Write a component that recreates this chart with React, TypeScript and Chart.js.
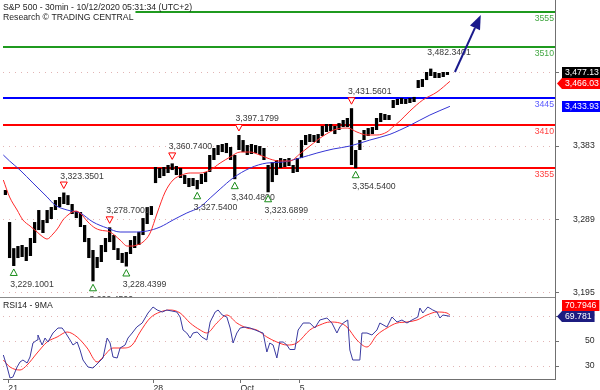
import React, { useEffect, useRef } from 'react';
import { Chart, registerables } from 'chart.js';

Chart.register(...registerables);

const FONT_FAMILY = '"Liberation Sans", Arial, Helvetica, sans-serif';
const FONT_SIZE = 8.7;
const FONT = `${FONT_SIZE}px ${FONT_FAMILY}`;

const TITLE = 'S&P 500 - 30min - 10/12/2020 05:31:34 (UTC+2)';
const SUBTITLE = 'Research © TRADING CENTRAL';
const RSI_TITLE = 'RSI14 - 9MA';

// x axis: bar index (hourly bars), ticks at the first bar of a day
const X_MIN = -1.58;
const X_MAX = 130.8;
const X_TICK_AT = [-0.3, 34.5, 55.4, 69.6];
const X_TICK_LABELS = ['21', '28', 'Oct', '5'];

const PRICE_MIN = 3189.3;
const PRICE_MAX = 3570.4;
const PRICE_TICKS = [3195, 3289, 3383, 3477];
const RSI_MIN = 19.6;
const RSI_MAX = 85.2;
const RSI_TICKS = [30, 50, 70];

// price bars, first bar has index BAR_START
const BAR_START = -1;
const BAR_HIGH = [
  3326.6, 3285.5, 3252.0, 3254.7, 3256.0, 3253.4, 3265.0, 3285.5, 3300.9, 3288.1,
  3300.9, 3304.8, 3313.7, 3317.6, 3323.35, 3320.0, 3308.6, 3299.6, 3298.3, 3281.7,
  3265.0, 3249.6, 3240.6, 3256.0, 3265.0, 3278.7, 3268.8, 3252.0, 3245.8, 3247.0,
  3262.4, 3267.5, 3272.7, 3290.6, 3304.8, 3306.0, 3356.1, 3354.8, 3356.1, 3358.7,
  3360.74, 3357.4, 3354.8, 3345.8, 3342.0, 3342.0, 3339.4, 3347.1, 3349.7, 3371.5,
  3380.5, 3384.3, 3385.6, 3386.9, 3381.8, 3371.5, 3397.18, 3390.7, 3384.3, 3385.6,
  3384.3, 3383.0, 3380.5, 3358.7, 3362.5, 3365.1, 3367.6, 3366.4, 3367.6, 3358.7,
  3367.6, 3390.7, 3397.2, 3398.4, 3397.2, 3398.4, 3408.7, 3411.3, 3411.3, 3408.7,
  3412.5, 3416.4, 3419.0, 3431.56, 3377.9, 3390.7, 3403.6, 3406.1, 3407.4, 3419.0,
  3425.4, 3424.1, 3422.8, 3442.1, 3443.4, 3444.7, 3443.4, 3444.7, 3446.0, 3467.7,
  3469.0, 3478.0, 3482.34, 3478.0, 3476.7, 3478.0, 3478.0,
];
const BAR_LOW = [
  3320.2, 3239.3, 3229.1, 3239.3, 3240.6, 3235.5, 3241.9, 3258.6, 3275.2, 3271.4,
  3284.2, 3289.4, 3300.9, 3304.8, 3308.6, 3307.3, 3295.8, 3290.6, 3279.1, 3259.8,
  3239.3, 3209.45, 3226.5, 3234.2, 3247.0, 3259.8, 3249.6, 3236.8, 3233.0, 3228.44,
  3244.5, 3252.2, 3256.0, 3268.8, 3283.0, 3294.5, 3335.5, 3342.0, 3344.5, 3348.4,
  3352.2, 3345.8, 3342.0, 3334.3, 3330.4, 3331.7, 3327.54, 3334.3, 3336.8, 3349.7,
  3365.1, 3371.5, 3375.3, 3374.0, 3365.1, 3340.48, 3377.9, 3375.3, 3371.5, 3372.8,
  3374.0, 3371.5, 3365.1, 3323.69, 3336.8, 3345.8, 3354.8, 3356.1, 3357.4, 3348.4,
  3349.7, 3367.6, 3384.3, 3388.2, 3388.2, 3386.9, 3395.9, 3401.0, 3402.3, 3398.4,
  3403.6, 3407.4, 3407.4, 3358.7, 3354.54, 3377.9, 3390.7, 3395.9, 3398.4, 3403.6,
  3413.8, 3416.4, 3416.4, 3431.8, 3435.7, 3437.0, 3437.0, 3438.2, 3439.5, 3457.5,
  3458.8, 3467.7, 3472.9, 3470.3, 3470.3, 3471.6, 3474.2,
];

// moving averages: [bar index, value]
const RED_MA: [number, number][] = [
  [-1.5, 3339.4], [0, 3317.6], [1.8, 3300.9], [3.2, 3288.1], [4.9, 3280.4], [6.6, 3272.7],
  [8, 3266.3], [9, 3263.7], [10.4, 3270.1], [11.6, 3277.8], [12.8, 3288.1], [14, 3294.5],
  [15, 3298.3], [15.9, 3299.6], [16.9, 3297.1], [18.8, 3285.5], [20.5, 3277.8], [21.7, 3275.2],
  [24.1, 3272.7], [26.5, 3262.4], [28.2, 3254.7], [29.6, 3254.7], [30.5, 3256], [32, 3259.8],
  [33.7, 3271.4], [35.4, 3297.1], [37.3, 3324], [39.2, 3339.4], [41.3, 3345.8], [43.3, 3348.4],
  [45.7, 3348.4], [48.1, 3352.2], [50.5, 3361.2], [52.9, 3368.9], [55.3, 3375.3], [57.7, 3375.3],
  [60, 3371.5], [62.4, 3366.4], [64.8, 3363.8], [67.2, 3363.8], [69.6, 3372.8], [72, 3383],
  [75.2, 3395.9], [78.5, 3404.9], [81.1, 3406.1], [83.3, 3401], [85.7, 3397.2], [88.1, 3397.2],
  [90.5, 3401], [91.9, 3407.4], [93.6, 3415.1], [96, 3427.9], [99.1, 3442.1], [102.5, 3452.3],
  [105.6, 3466.03],
];
const BLUE_MA: [number, number][] = [
  [-1.5, 3371.5], [0, 3363.8], [2.5, 3352.2], [5.6, 3335.6], [9, 3317.6], [10.9, 3307.3],
  [13.8, 3300.9], [16.9, 3297.1], [20, 3285.5], [23.4, 3277.8], [26.5, 3272.7], [29.6, 3272.7],
  [33, 3274], [36.1, 3279.1], [39.2, 3288.1], [42.5, 3297.1], [45.7, 3304.8], [48.1, 3316.3],
  [50.5, 3327.9], [53.6, 3342], [57.7, 3354.8], [61.7, 3361.2], [65.6, 3362.5], [69.6, 3367.6],
  [73.7, 3374], [77.6, 3379.2], [81.6, 3383], [86.4, 3390.7], [91.2, 3398], [93.6, 3403.5],
  [96, 3409.5], [100.8, 3422.8], [105.6, 3433.93],
];

// RSI(14) and its 9-period average: [bar index, value]
const RSI: [number, number][] = [
  [-1.5, 38.8], [-0.6, 29.2], [0.1, 20.4], [0.8, 21.2], [1.8, 29.2], [2.5, 33.2], [3.2, 34.8],
  [4.2, 32.4], [4.9, 37.2], [5.6, 48.4], [6.6, 50.8], [6.8, 54.8], [7.8, 46.8], [8.5, 52.4],
  [9.2, 49.2], [10.4, 56.4], [11.6, 60.4], [12.6, 60.4], [13.3, 57.2], [14.5, 50.8], [15.2, 46.8],
  [16.2, 49.2], [16.9, 42.8], [17.6, 34.8], [18.8, 29.2], [20, 28.4], [21.2, 32.4], [22.4, 36.4],
  [23.4, 52.4], [24.1, 48.4], [24.8, 37.2], [25.8, 36.4], [26.5, 44.4], [27.7, 46.8], [28.4, 52.4],
  [29.4, 56.4], [30.5, 61.2], [31.8, 64.4], [32.5, 68.4], [33.2, 72.4], [34.4, 77.2], [35.4, 74.8],
  [36.6, 73.2], [37.7, 74.8], [38.9, 74], [40.1, 73.2], [40.9, 69.2], [41.6, 58.8], [42.5, 56.4],
  [43.3, 52.4], [44, 56.4], [45, 57.2], [46.1, 53.2], [47.3, 50.8], [48.1, 65.2], [49.3, 73.2],
  [50, 74.8], [51, 70.8], [52.1, 69.2], [52.9, 60.4], [53.6, 48.4], [54.5, 56.4], [55.3, 60.4],
  [56.5, 61.2], [57.7, 60.4], [58.9, 58.8], [60.1, 57.2], [60.8, 56.4], [61.7, 41.2], [62.4, 48.4],
  [63.2, 46.8], [64.1, 36.4], [64.8, 49.2], [65.6, 49.2], [66.5, 46.8], [67.2, 43.2], [68.4, 43.2],
  [69.2, 58.8], [70.4, 64.4], [72, 64.4], [73.2, 60.4], [74.4, 66.8], [76.1, 68.4], [77.3, 64.4],
  [78.5, 56.4], [79.2, 61.2], [80, 64.4], [81.1, 66.8], [81.6, 42.8], [82.3, 34.8], [84, 34.8],
  [84.5, 56.4], [85.7, 56.4], [86.9, 54.8], [88.1, 58.8], [88.8, 64.4], [90.5, 61.2], [91.7, 69.2],
  [92.9, 65.2], [94.1, 66.8], [95.3, 64.4], [96.5, 66.8], [97.9, 69.2], [98.4, 76.4], [99.1, 72.4],
  [100.3, 77.2], [101.5, 74.8], [102.5, 73.2], [103.2, 68.4], [103.9, 70.8], [105.6, 69.781],
];
const RSI_MA: [number, number][] = [
  [-1.5, 34.8], [0.1, 29.2], [2.5, 26.8], [4.2, 30.8], [6.6, 40.4], [9, 49.2], [11.4, 53.2],
  [13.8, 57.2], [16.2, 53.2], [18.6, 44.4], [21, 33.2], [22.4, 37.2], [24.8, 44.4], [27.2, 44.4],
  [29.4, 46.8], [31.3, 57.2], [33.7, 68.4], [36.1, 73.2], [38.5, 74.8], [40.9, 72.4], [43.3, 64.4],
  [45.7, 58.8], [47.3, 56.4], [49.7, 64.4], [52.1, 70.8], [54.5, 64.4], [56.9, 60.4], [59.3, 58.8],
  [61.7, 53.2], [64.1, 49.2], [66.5, 46.8], [68.9, 48.4], [72, 58.8], [74.4, 62.8], [76.8, 65.2],
  [79.2, 64.4], [80.9, 61.2], [83.3, 50.8], [85.7, 45.2], [88.1, 54.8], [90.5, 60.4], [92.9, 64.4],
  [95.3, 65.2], [97.7, 66.8], [100.1, 70.8], [102.5, 73.2], [104.9, 72.4], [105.6, 70.7946],
];

// support / resistance levels
const LEVELS = [3555, 3510, 3445, 3410, 3355];
const LEVEL_COLORS = ['#1f9a1f', '#1f9a1f', '#0000ff', '#ff0000', '#ff0000'];
const LEVEL_TEXT_COLORS = ['#45a845', '#45a845', '#5a5aff', '#ff4040', '#ff4040'];

// pivots: [bar index, value]
const PIVOT_HIGHS: [number, number][] = [
  [13, 3323.3501], [24, 3278.7001], [39, 3360.74], [55, 3397.1799], [82, 3431.5601], [101, 3482.3401],
];
const PIVOT_HIGH_MARKED = [true, true, true, true, true, false];
const PIVOT_LOWS: [number, number][] = [
  [1, 3229.1001], [20, 3209.45], [28, 3228.4399], [45, 3327.54], [54, 3340.48], [62, 3323.6899], [83, 3354.54],
];

// forecast arrow: [bar index, value] from -> to
const ARROW_FROM: [number, number] = [106.8, 3478];
const ARROW_TO: [number, number] = [113, 3551];

// last values (tags on the right axis)
const LAST_PRICE = 3477.13;
const LAST_RED_MA = 3466.03;
const LAST_BLUE_MA = 3433.93;
const LAST_RSI = 69.781;
const LAST_RSI_MA = 70.7946;

function fmt(v: number, d: number) {
  return v.toLocaleString('en-US', { minimumFractionDigits: d, maximumFractionDigits: d });
}

function drawTag(ctx: any, left: number, yc: number, text: string, color: string, arrow: boolean) {
  const h = 11;
  const top = Math.round(yc - h / 2);
  const bx = left + 5;
  const w = ctx.measureText(text).width;
  const right = Math.min(600, bx + 3 + w + 3);
  ctx.fillStyle = color;
  ctx.beginPath();
  if (arrow) {
    ctx.moveTo(left, top + h / 2);
    ctx.lineTo(bx, top);
    ctx.lineTo(right, top);
    ctx.lineTo(right, top + h);
    ctx.lineTo(bx, top + h);
    ctx.closePath();
  } else {
    ctx.rect(bx, top, right - bx, h);
  }
  ctx.fill();
  ctx.fillStyle = '#ffffff';
  ctx.textAlign = 'left';
  ctx.textBaseline = 'middle';
  ctx.fillText(text, bx + 3, top + h / 2 + 0.5);
  return top + h / 2;
}

const overlayPlugin = {
  id: 'overlay',
  beforeDatasetsDraw(chart: any) {
    const { ctx, chartArea: ca, scales } = chart;
    const y = scales.y;
    ctx.save();
    ctx.font = FONT;
    LEVELS.forEach((lv, k) => {
      const py = Math.round(y.getPixelForValue(lv));
      ctx.strokeStyle = LEVEL_COLORS[k];
      ctx.lineWidth = 2;
      ctx.beginPath();
      ctx.moveTo(ca.left, py);
      ctx.lineTo(ca.right, py);
      ctx.stroke();
      ctx.fillStyle = LEVEL_TEXT_COLORS[k];
      ctx.textAlign = 'right';
      ctx.textBaseline = 'alphabetic';
      ctx.fillText(String(lv), ca.right - 1, py + 9);
    });
    ctx.restore();
  },
  afterDatasetsDraw(chart: any) {
    const { ctx, chartArea: ca, scales } = chart;
    const x = scales.x;
    const y = scales.y;
    ctx.save();
    // panel separator
    ctx.strokeStyle = '#8a8a8a';
    ctx.lineWidth = 1;
    ctx.beginPath();
    ctx.moveTo(0, Math.round(y.bottom) + 0.5);
    ctx.lineTo(ca.right, Math.round(y.bottom) + 0.5);
    ctx.stroke();

    ctx.beginPath();
    ctx.rect(ca.left, y.top, ca.right - ca.left, y.bottom - y.top);
    ctx.clip();
    ctx.font = FONT;
    ctx.textAlign = 'left';
    ctx.textBaseline = 'alphabetic';
    ctx.lineWidth = 1;
    PIVOT_HIGHS.forEach(([i, v], k) => {
      const px = x.getPixelForValue(i);
      const py = y.getPixelForValue(v);
      if (PIVOT_HIGH_MARKED[k]) {
        const cy = py - 7.5;
        ctx.beginPath();
        ctx.moveTo(px - 3.5, cy - 3);
        ctx.lineTo(px + 3.5, cy - 3);
        ctx.lineTo(px, cy + 3.5);
        ctx.closePath();
        ctx.fillStyle = '#ffffff';
        ctx.fill();
        ctx.strokeStyle = '#ff0000';
        ctx.stroke();
      }
      ctx.fillStyle = '#3a3a3a';
      ctx.fillText(fmt(v, 4), px - 3.5, py - 14);
    });
    PIVOT_LOWS.forEach(([i, v]) => {
      const px = x.getPixelForValue(i);
      const py = y.getPixelForValue(v);
      const cy = py + 6.5;
      ctx.beginPath();
      ctx.moveTo(px - 3.5, cy + 3);
      ctx.lineTo(px + 3.5, cy + 3);
      ctx.lineTo(px, cy - 3.5);
      ctx.closePath();
      ctx.fillStyle = '#ffffff';
      ctx.fill();
      ctx.strokeStyle = '#1a8c1a';
      ctx.stroke();
      ctx.fillStyle = '#3a3a3a';
      ctx.fillText(fmt(v, 4), px - 3.5, py + 21);
    });

    // forecast arrow
    const x1 = x.getPixelForValue(ARROW_FROM[0]);
    const y1 = y.getPixelForValue(ARROW_FROM[1]);
    const x2 = x.getPixelForValue(ARROW_TO[0]);
    const y2 = y.getPixelForValue(ARROW_TO[1]);
    const ang = Math.atan2(y2 - y1, x2 - x1);
    const hl = 14;
    const hw = 5.5;
    const bx = x2 - hl * Math.cos(ang);
    const by = y2 - hl * Math.sin(ang);
    ctx.strokeStyle = '#1a1a8c';
    ctx.fillStyle = '#1a1a8c';
    ctx.lineWidth = 2;
    ctx.beginPath();
    ctx.moveTo(x1, y1);
    ctx.lineTo(bx, by);
    ctx.stroke();
    ctx.beginPath();
    ctx.moveTo(x2, y2);
    ctx.lineTo(bx + hw * Math.sin(ang), by - hw * Math.cos(ang));
    ctx.lineTo(bx - hw * Math.sin(ang), by + hw * Math.cos(ang));
    ctx.closePath();
    ctx.fill();
    ctx.restore();

    // titles
    ctx.save();
    ctx.font = FONT;
    ctx.textAlign = 'left';
    ctx.textBaseline = 'alphabetic';
    const w1 = ctx.measureText(TITLE).width;
    const w2 = ctx.measureText(SUBTITLE).width;
    ctx.fillStyle = '#ffffff';
    ctx.fillRect(0, 0, 3 + w1 + 2, 10.5);
    ctx.fillRect(0, 10.5, 3 + w2 + 2, 11);
    ctx.fillStyle = '#1e1e1e';
    ctx.fillText(TITLE, 3, 9.5);
    ctx.fillText(SUBTITLE, 3, 20);
    const yr = scales.yr;
    ctx.fillText(RSI_TITLE, 3, yr.top + 11);
    ctx.restore();
  },
  afterDraw(chart: any) {
    const { ctx, chartArea: ca, scales } = chart;
    const y = scales.y;
    const yr = scales.yr;
    const left = ca.right + 2;
    ctx.save();
    ctx.font = FONT;
    const pY = y.getPixelForValue(LAST_PRICE);
    drawTag(ctx, left, pY, fmt(LAST_PRICE, 2), '#000000', false);
    let rY = y.getPixelForValue(LAST_RED_MA);
    if (Math.abs(rY - pY) < 11) rY = pY + 11;
    drawTag(ctx, left, rY, fmt(LAST_RED_MA, 2), '#ff0000', true);
    drawTag(ctx, left, y.getPixelForValue(LAST_BLUE_MA), fmt(LAST_BLUE_MA, 2), '#0000ff', false);
    const sY = yr.getPixelForValue(LAST_RSI);
    drawTag(ctx, left, sY, fmt(LAST_RSI, 3), '#1c1c80', true);
    let mY = yr.getPixelForValue(LAST_RSI_MA);
    if (Math.abs(mY - sY) < 11) mY = sY - 11;
    drawTag(ctx, left, mY, fmt(LAST_RSI_MA, 4), '#ff0000', false);
    ctx.restore();
  },
};

const GRID_COLOR = '#e2b4b4';
const AXIS_COLOR = '#707070';

export default function App() {
  const ref = useRef<HTMLCanvasElement | null>(null);
  useEffect(() => {
    const canvas = ref.current;
    if (!canvas) return;
    Chart.defaults.font.family = FONT_FAMILY;
    Chart.defaults.font.size = FONT_SIZE;
    const zeroPad = (s: any) => {
      s.paddingTop = 0;
      s.paddingBottom = 0;
      s.paddingLeft = 0;
      s.paddingRight = 0;
    };
    const chart = new Chart(canvas, {
      type: 'bar',
      data: {
        datasets: [
          {
            type: 'line',
            label: 'MA fast',
            data: RED_MA.map(([a, b]) => ({ x: a, y: b })),
            borderColor: '#ff2a2a',
            borderWidth: 1,
            pointRadius: 0,
            cubicInterpolationMode: 'monotone',
            yAxisID: 'y',
            order: 1,
          },
          {
            type: 'line',
            label: 'MA slow',
            data: BLUE_MA.map(([a, b]) => ({ x: a, y: b })),
            borderColor: '#3434d4',
            borderWidth: 1,
            pointRadius: 0,
            cubicInterpolationMode: 'monotone',
            yAxisID: 'y',
            order: 1,
          },
          {
            type: 'bar',
            label: 'S&P 500',
            data: BAR_HIGH.map((h, k) => ({ x: BAR_START + k, y: [BAR_LOW[k], h] })),
            backgroundColor: '#000000',
            barPercentage: 0.78,
            categoryPercentage: 1,
            yAxisID: 'y',
            order: 2,
          },
          {
            type: 'line',
            label: 'RSI14',
            data: RSI.map(([a, b]) => ({ x: a, y: b })),
            borderColor: '#3a3aa0',
            borderWidth: 1,
            pointRadius: 0,
            tension: 0,
            yAxisID: 'yr',
            order: 1,
          },
          {
            type: 'line',
            label: '9MA',
            data: RSI_MA.map(([a, b]) => ({ x: a, y: b })),
            borderColor: '#ff3030',
            borderWidth: 1,
            pointRadius: 0,
            cubicInterpolationMode: 'monotone',
            yAxisID: 'yr',
            order: 1,
          },
        ] as any,
      },
      options: {
        animation: false,
        responsive: false,
        devicePixelRatio: 1,
        events: [],
        layout: { autoPadding: false, padding: { left: 3, right: 0, top: 0, bottom: 0 } },
        plugins: { legend: { display: false }, tooltip: { enabled: false } },
        scales: {
          x: {
            type: 'linear',
            position: 'bottom',
            min: X_MIN,
            max: X_MAX,
            offset: false,
            grid: { drawOnChartArea: false, drawTicks: true, tickLength: 4, color: AXIS_COLOR, offset: false },
            border: { color: AXIS_COLOR },
            ticks: {
              align: 'start',
              padding: 0,
              maxRotation: 0,
              autoSkip: false,
              color: '#2a2a2a',
              callback: (_v: any, idx: number) => X_TICK_LABELS[idx],
            },
            afterBuildTicks: (s: any) => {
              s.ticks = X_TICK_AT.map((v) => ({ value: v }));
            },
            afterFit: (s: any) => {
              s.height = 11;
              zeroPad(s);
            },
          },
          y: {
            type: 'linear',
            position: 'right',
            stack: 'panels',
            stackWeight: 297,
            min: PRICE_MIN,
            max: PRICE_MAX,
            grid: { color: GRID_COLOR, tickColor: AXIS_COLOR, tickLength: 4 },
            border: { color: AXIS_COLOR, dash: [1, 5] },
            ticks: {
              crossAlign: 'near',
              padding: 14,
              color: '#2a2a2a',
              callback: (v: any) => Number(v).toLocaleString('en-US'),
            },
            afterBuildTicks: (s: any) => {
              s.ticks = PRICE_TICKS.map((v) => ({ value: v }));
            },
            afterFit: (s: any) => {
              s.width = 45;
              zeroPad(s);
            },
          },
          yr: {
            type: 'linear',
            position: 'right',
            stack: 'panels',
            stackWeight: 82,
            min: RSI_MIN,
            max: RSI_MAX,
            grid: { color: GRID_COLOR, tickColor: AXIS_COLOR, tickLength: 4 },
            border: { color: AXIS_COLOR, dash: [1, 5] },
            ticks: {
              crossAlign: 'near',
              padding: 26,
              color: '#2a2a2a',
              callback: (v: any) => String(v),
            },
            afterBuildTicks: (s: any) => {
              s.ticks = RSI_TICKS.map((v) => ({ value: v }));
            },
            afterFit: (s: any) => {
              s.width = 45;
              zeroPad(s);
            },
          },
        } as any,
      },
      plugins: [overlayPlugin],
    });
    return () => chart.destroy();
  }, []);
  return (
    <div style={{ position: 'fixed', left: 0, top: 0, width: 600, height: 390, background: '#ffffff' }}>
      <canvas ref={ref} width={600} height={390} style={{ display: 'block' }} />
    </div>
  );
}
